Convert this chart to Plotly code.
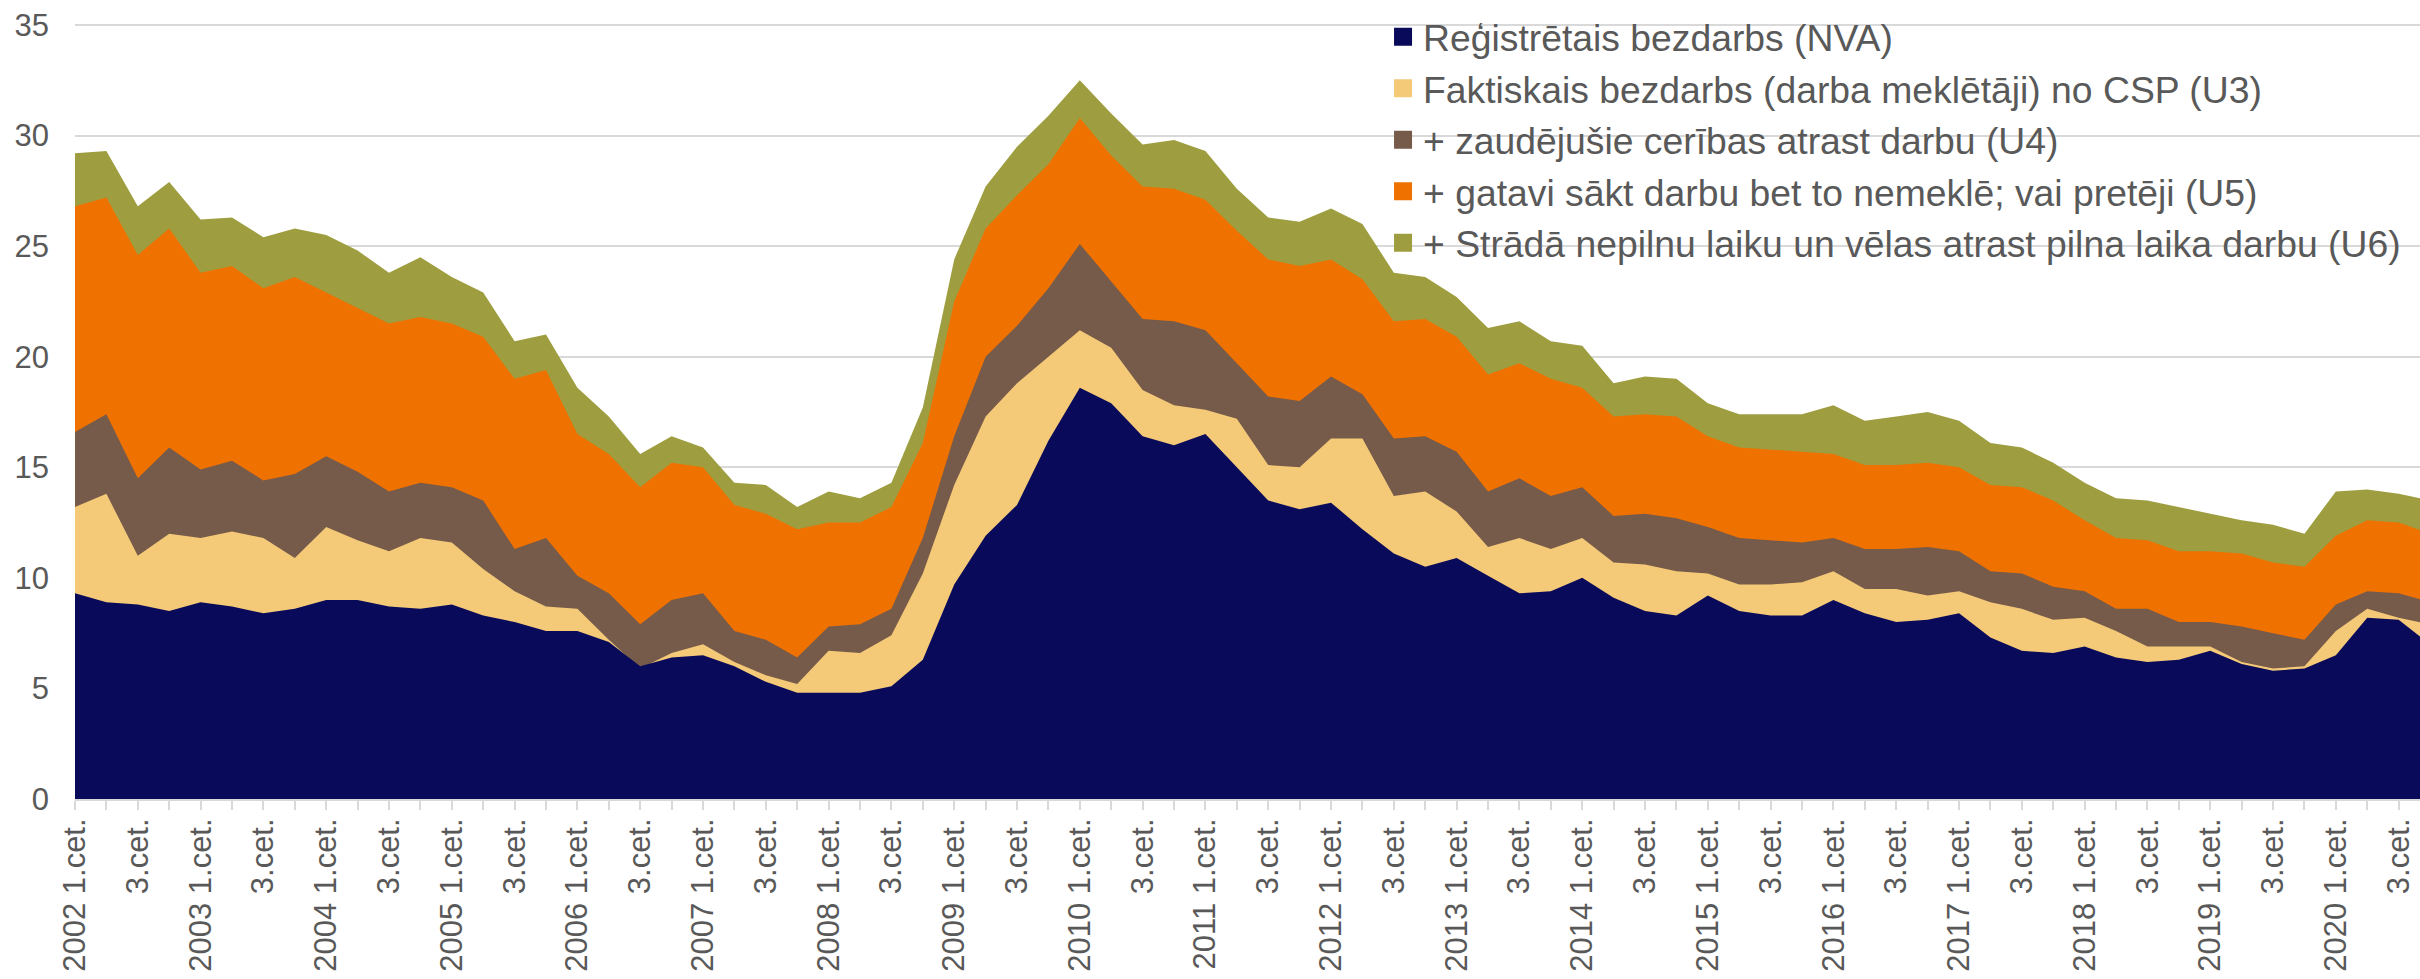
import plotly.graph_objects as go

years = list(range(2002, 2021))
quarters = [f"{y} Q{q}" for y in years for q in range(1, 5)]

nva = [9.3, 8.9, 8.8, 8.5, 8.9, 8.7, 8.4, 8.6, 9.0, 9.0, 8.7, 8.6,
       8.8, 8.3, 8.0, 7.6, 7.6, 7.1, 6.0, 6.4, 6.5, 6.0, 5.3, 4.8,
       4.8, 4.8, 5.1, 6.3, 9.7, 11.9, 13.3, 16.2, 18.6, 17.9, 16.4, 16.0,
       16.5, 15.0, 13.5, 13.1, 13.4, 12.2, 11.1, 10.5, 10.9, 10.1, 9.3, 9.4,
       10.0, 9.1, 8.5, 8.3, 9.2, 8.5, 8.3, 8.3, 9.0, 8.4, 8.0, 8.1,
       8.4, 7.3, 6.7, 6.6, 6.9, 6.4, 6.2, 6.3, 6.7, 6.1, 5.8, 5.9,
       6.5, 8.2, 8.1, 7.0]
u3 = [13.2, 13.8, 11.0, 12.0, 11.8, 12.1, 11.8, 10.9, 12.3, 11.7, 11.2, 11.8,
      11.6, 10.4, 9.4, 8.7, 8.6, 7.2, 5.9, 6.6, 7.0, 6.2, 5.6, 5.2,
      6.7, 6.6, 7.4, 10.2, 14.2, 17.3, 18.8, 20.0, 21.2, 20.4, 18.5, 17.8,
      17.6, 17.2, 15.1, 15.0, 16.3, 16.3, 13.7, 13.9, 13.0, 11.4, 11.8, 11.3,
      11.8, 10.7, 10.6, 10.3, 10.2, 9.7, 9.7, 9.8, 10.3, 9.5, 9.5, 9.2,
      9.4, 8.9, 8.6, 8.1, 8.2, 7.6, 6.9, 6.9, 6.9, 6.2, 5.9, 6.0,
      7.6, 8.6, 8.2, 7.9]
u4 = [16.6, 17.4, 14.5, 15.9, 14.9, 15.3, 14.4, 14.7, 15.5, 14.8, 13.9, 14.3,
      14.1, 13.5, 11.3, 11.8, 10.1, 9.3, 7.9, 9.0, 9.3, 7.6, 7.2, 6.4,
      7.8, 7.9, 8.6, 11.8, 16.4, 20.0, 21.4, 23.1, 25.1, 23.4, 21.7, 21.6,
      21.2, 19.7, 18.2, 18.0, 19.1, 18.3, 16.3, 16.4, 15.7, 13.9, 14.5, 13.7,
      14.1, 12.8, 12.9, 12.7, 12.3, 11.8, 11.7, 11.6, 11.8, 11.3, 11.3, 11.4,
      11.2, 10.3, 10.2, 9.6, 9.4, 8.6, 8.6, 8.0, 8.0, 7.8, 7.5, 7.2,
      8.8, 9.4, 9.3, 8.9]
u5 = [26.8, 27.2, 24.6, 25.8, 23.8, 24.1, 23.1, 23.6, 22.9, 22.2, 21.5, 21.8,
      21.5, 20.9, 19.0, 19.4, 16.5, 15.6, 14.1, 15.2, 15.0, 13.3, 12.9, 12.2,
      12.5, 12.5, 13.2, 16.1, 22.5, 25.8, 27.3, 28.7, 30.8, 29.1, 27.7, 27.6,
      27.1, 25.7, 24.4, 24.1, 24.4, 23.5, 21.6, 21.7, 20.9, 19.2, 19.7, 19.0,
      18.6, 17.3, 17.4, 17.3, 16.4, 15.9, 15.8, 15.7, 15.6, 15.1, 15.1, 15.2,
      15.0, 14.2, 14.1, 13.5, 12.6, 11.8, 11.7, 11.2, 11.2, 11.1, 10.7, 10.5,
      11.9, 12.6, 12.5, 12.0]
u6 = [29.2, 29.3, 26.8, 27.9, 26.2, 26.3, 25.4, 25.8, 25.5, 24.8, 23.8, 24.5,
      23.6, 22.9, 20.7, 21.0, 18.6, 17.3, 15.6, 16.4, 15.9, 14.3, 14.2, 13.2,
      13.9, 13.6, 14.3, 17.7, 24.4, 27.7, 29.5, 30.9, 32.5, 31.0, 29.6, 29.8,
      29.3, 27.6, 26.3, 26.1, 26.7, 26.0, 23.8, 23.6, 22.7, 21.3, 21.6, 20.7,
      20.5, 18.8, 19.1, 19.0, 17.9, 17.4, 17.4, 17.4, 17.8, 17.1, 17.3, 17.5,
      17.1, 16.1, 15.9, 15.2, 14.3, 13.6, 13.5, 13.2, 12.9, 12.6, 12.4, 12.0,
      13.9, 14.0, 13.8, 13.5]

names = ["Reģistrētais bezdarbs (NVA)",
         "Faktiskais bezdarbs (darba meklētāji) no CSP (U3)",
         "+ zaudējušie cerības atrast darbu (U4)",
         "+ gatavi sākt darbu bet to nemeklē; vai pretēji (U5)",
         "+ Strādā nepilnu laiku un vēlas atrast pilna laika darbu (U6)"]
colors = ["#0A0A5A", "#F4C978", "#765A4A", "#EF7200", "#9E9E40"]
series = [nva, u3, u4, u5, u6]

x = list(range(len(quarters)))
tick_text = []
for i, q in enumerate(quarters):
    y, qq = q.split(" Q")
    if qq == "1":
        tick_text.append(f"{y} 1.cet.")
    elif qq == "3":
        tick_text.append("3.cet.")
    else:
        tick_text.append("")

font = "Liberation Sans, Arial, sans-serif"
fig = go.Figure()
# areas: back to front
for k in range(4, -1, -1):
    fig.add_trace(go.Scatter(x=x, y=series[k], mode="lines", fill="tozeroy",
                             line=dict(width=0, color=colors[k]), fillcolor=colors[k],
                             showlegend=False, hoverinfo="skip"))
# legend entries
for k in range(5):
    fig.add_trace(go.Scatter(x=[None], y=[None], mode="markers", name=names[k],
                             marker=dict(symbol="square", size=16, color=colors[k],
                                         line=dict(width=2, color=colors[k]))))

fig.update_layout(
    width=2420, height=979,
    margin=dict(l=75, r=0, t=0, b=180, autoexpand=False),
    paper_bgcolor="white", plot_bgcolor="white",
    font=dict(family=font, color="#595959"),
    showlegend=True,
    legend=dict(x=0.5578, y=0.9925, xanchor="left", yanchor="top",
                bgcolor="rgba(0,0,0,0)", font=dict(size=37.3, color="#595959"),
                tracegroupgap=0),
)
fig.update_xaxes(range=[0, 74.68], tickmode="array", tickvals=x[:75], ticktext=tick_text[:75],
                 tickangle=-90, tickfont=dict(size=31, color="#595959"),
                 ticks="", ticklabelstandoff=5,
                 minor=dict(ticks="outside", ticklen=9, tickwidth=2, tickcolor="#D9D9D9",
                            tick0=0.0001, dtick=1, showgrid=False),
                 showline=True, linecolor="#D9D9D9", linewidth=2,
                 showgrid=False, zeroline=False, automargin=False)
fig.update_yaxes(range=[0, 35 * 799 / 774], tickmode="array", tickvals=[0, 5, 10, 15, 20, 25, 30, 35],
                 tickfont=dict(size=31, color="#595959"),
                 showgrid=True, gridcolor="#D9D9D9", gridwidth=2,
                 zeroline=False, ticks="", ticklabelstandoff=25, automargin=False)

fig.write_html("out.html", config={"displayModeBar": False},
               post_script="document.body.style.margin='0';document.body.style.padding='0';")
